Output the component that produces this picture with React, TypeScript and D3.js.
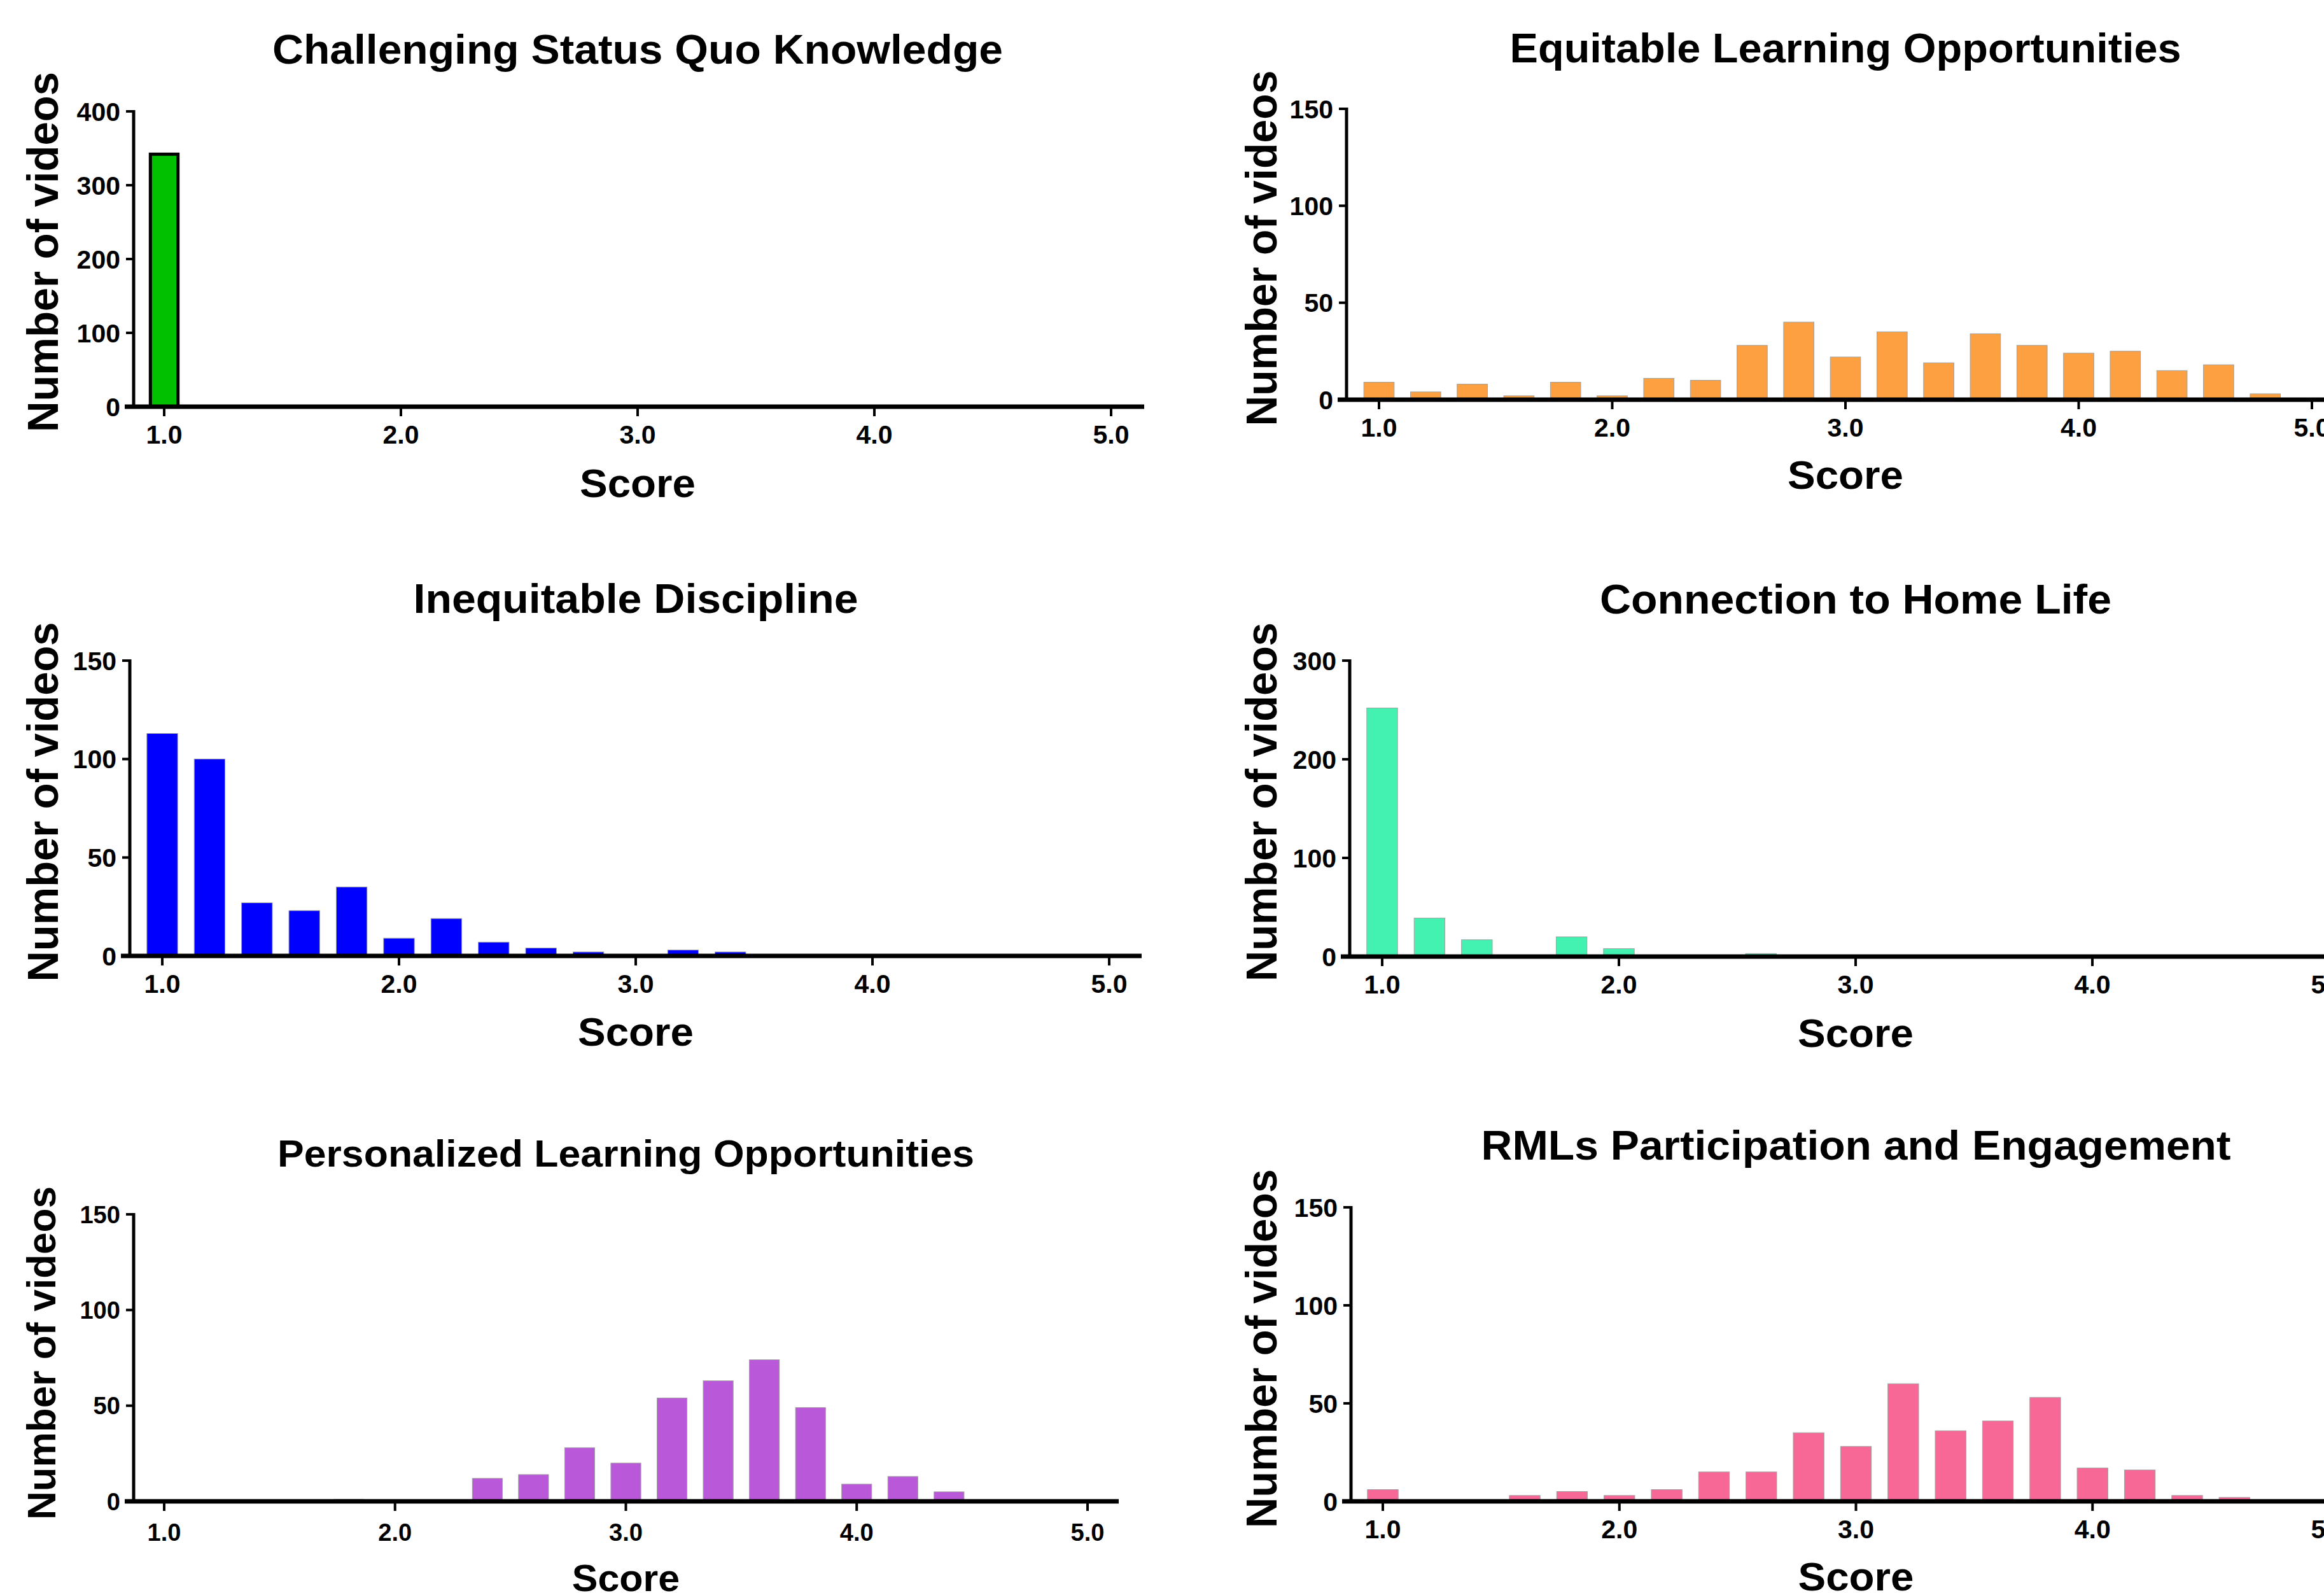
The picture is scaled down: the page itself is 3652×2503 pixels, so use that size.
import * as d3 from "d3";
import { useEffect, useRef } from "react";

const WIDTH = 3652;
const HEIGHT = 2503;
const FONT = "'Liberation Sans', Arial, Helvetica, sans-serif";

// bin centres shared by all six histograms
const scores = [
  1.0, 1.2, 1.4, 1.6, 1.8, 2.0, 2.2, 2.4, 2.6, 2.8, 3.0, 3.2, 3.4, 3.6, 3.8,
  4.0, 4.2, 4.4, 4.6, 4.8, 5.0,
];
const xTickValues = [1, 2, 3, 4, 5];

// counts per bin
const challengingCounts = [342, 0, 0, 0, 0, 0, 0, 0, 0, 0, 0, 0, 0, 0, 0, 0, 0, 0, 0, 0, 0];
const equitableCounts = [9, 4, 8, 2, 9, 2, 11, 10, 28, 40, 22, 35, 19, 34, 28, 24, 25, 15, 18, 3, 0];
const disciplineCounts = [113, 100, 27, 23, 35, 9, 19, 7, 4, 2, 0, 3, 2, 0, 0, 0, 0, 0, 0, 0, 0];
const homeLifeCounts = [252, 39, 17, 0, 20, 8, 0, 0, 3, 0, 0, 0, 0, 0, 0, 0, 0, 0, 0, 0, 0];
const personalizedCounts = [0, 0, 0, 0, 1, 0, 0, 12, 14, 28, 20, 54, 63, 74, 49, 9, 13, 5, 0, 0, 0];
const participationCounts = [6, 0, 0, 3, 5, 3, 6, 15, 15, 35, 28, 60, 36, 41, 53, 17, 16, 3, 2, 0, 0];

// y tick labels
const ticks400 = [0, 100, 200, 300, 400];
const ticks300 = [0, 100, 200, 300];
const ticks150 = [0, 50, 100, 150];

const panels = [
  {
    title: "Challenging Status Quo Knowledge", counts: challengingCounts, yTicks: ticks400,
    color: "#00C000", outline: true,
    ax: 210, yTop: 175, y0: 639, x1: 258, x5: 1746, xEnd: 1798,
    titleY: 100, titleW: 1148, scoreY: 781, labelX: 91, labelY: 396, labelLen: 566, k: 1,
  },
  {
    title: "Equitable Learning Opportunities", counts: equitableCounts, yTicks: ticks150,
    color: "#FCA042", outline: false,
    ax: 2116, yTop: 171, y0: 628, x1: 2167, x5: 3633, xEnd: 3700,
    titleY: 98, titleW: 1055, scoreY: 768, labelX: 2006, labelY: 390, labelLen: 559, k: 1,
  },
  {
    title: "Inequitable Discipline", counts: disciplineCounts, yTicks: ticks150,
    color: "#0000FF", outline: false,
    ax: 204, yTop: 1038, y0: 1502, x1: 255, x5: 1743, xEnd: 1794,
    titleY: 963, titleW: 699, scoreY: 1643, labelX: 91, labelY: 1260, labelLen: 565, k: 1,
  },
  {
    title: "Connection to Home Life", counts: homeLifeCounts, yTicks: ticks300,
    color: "#43F2B0", outline: false,
    ax: 2121, yTop: 1038, y0: 1503, x1: 2172, x5: 3660, xEnd: 3700,
    titleY: 964, titleW: 804, scoreY: 1645, labelX: 2006, labelY: 1260, labelLen: 564, k: 1,
  },
  {
    title: "Personalized Learning Opportunities", counts: personalizedCounts, yTicks: ticks150,
    color: "#B958D8", outline: false,
    ax: 210, yTop: 1908, y0: 2359, x1: 258, x5: 1709, xEnd: 1758,
    titleY: 1833, titleW: 1095, scoreY: 2500, labelX: 87, labelY: 2126, labelLen: 524, k: 0.93,
  },
  {
    title: "RMLs Participation and Engagement", counts: participationCounts, yTicks: ticks150,
    color: "#F76896", outline: false,
    ax: 2123, yTop: 1897, y0: 2359, x1: 2173, x5: 3660, xEnd: 3700,
    titleY: 1822, titleW: 1178, scoreY: 2499, labelX: 2006, labelY: 2119, labelLen: 564, k: 1,
  },
];

const drawPanel = (svg, p) => {
  const g = svg.append("g");
  const x = d3.scaleLinear().domain([1, 5]).range([p.x1, p.x5]);
  const y = d3.scaleLinear().domain([0, d3.max(p.yTicks)]).range([p.y0, p.yTop]);
  const bw = (x(scores[1]) - x(scores[0])) * 0.65;
  const rows = scores.map((s, i) => ({ s, n: p.counts[i] })).filter((d) => d.n > 0);

  // bars
  const sw = p.outline ? 5 : 1;
  const w = p.outline ? bw - 5 : bw;
  g.selectAll("rect")
    .data(rows)
    .join("rect")
    .attr("x", (d) => x(d.s) - w / 2)
    .attr("y", (d) => y(d.n))
    .attr("width", w)
    .attr("height", (d) => p.y0 - y(d.n))
    .attr("fill", p.color)
    .attr("stroke", p.outline ? "#000" : "#a0a0a0")
    .attr("stroke-width", sw);

  const tickFs = 41 * p.k;

  // y axis
  g.append("line")
    .attr("x1", p.ax).attr("x2", p.ax)
    .attr("y1", y(d3.max(p.yTicks)) - 2).attr("y2", p.y0)
    .attr("stroke", "#000").attr("stroke-width", 5);
  p.yTicks.forEach((t) => {
    g.append("line")
      .attr("x1", p.ax - 12).attr("x2", p.ax)
      .attr("y1", y(t)).attr("y2", y(t))
      .attr("stroke", "#000").attr("stroke-width", 4);
    g.append("text")
      .attr("x", p.ax - 21)
      .attr("y", y(t) + 0.36 * tickFs)
      .attr("text-anchor", "end")
      .attr("font-family", FONT)
      .attr("font-weight", "bold")
      .attr("font-size", tickFs)
      .text(t);
  });

  // x axis
  g.append("line")
    .attr("x1", p.ax - 14).attr("x2", p.xEnd)
    .attr("y1", p.y0).attr("y2", p.y0)
    .attr("stroke", "#000").attr("stroke-width", 7);
  xTickValues.forEach((t) => {
    g.append("line")
      .attr("x1", x(t)).attr("x2", x(t))
      .attr("y1", p.y0).attr("y2", p.y0 + 15)
      .attr("stroke", "#000").attr("stroke-width", 4);
    g.append("text")
      .attr("x", x(t))
      .attr("y", p.y0 + 58 * p.k + (p.k < 1 ? 8 : 0))
      .attr("text-anchor", "middle")
      .attr("font-family", FONT)
      .attr("font-weight", "bold")
      .attr("font-size", tickFs)
      .text(d3.format(".1f")(t));
  });

  // title
  g.append("text")
    .attr("x", x(3))
    .attr("y", p.titleY)
    .attr("text-anchor", "middle")
    .attr("font-family", FONT)
    .attr("font-weight", "bold")
    .attr("font-size", 64 * p.k)
    .attr("textLength", p.titleW)
    .attr("lengthAdjust", "spacingAndGlyphs")
    .text(p.title);

  // x title
  g.append("text")
    .attr("x", x(3))
    .attr("y", p.scoreY)
    .attr("text-anchor", "middle")
    .attr("font-family", FONT)
    .attr("font-weight", "bold")
    .attr("font-size", 63 * p.k)
    .attr("textLength", 182 * p.k)
    .attr("lengthAdjust", "spacingAndGlyphs")
    .text("Score");

  // y title
  g.append("text")
    .attr("transform", `translate(${p.labelX}, ${p.labelY}) rotate(-90)`)
    .attr("text-anchor", "middle")
    .attr("font-family", FONT)
    .attr("font-weight", "bold")
    .attr("font-size", 68 * p.k)
    .attr("textLength", p.labelLen)
    .attr("lengthAdjust", "spacingAndGlyphs")
    .text("Number of videos");
};

const App = () => {
  const svgRef = useRef(null);

  useEffect(() => {
    const svg = d3.select(svgRef.current);
    svg.selectAll("*").remove();
    svg.append("rect").attr("width", WIDTH).attr("height", HEIGHT).attr("fill", "#fff");
    panels.forEach((p) => drawPanel(svg, p));
  }, []);

  return (
    <div style={{ position: "absolute", left: 0, top: 0 }}>
      <svg ref={svgRef} width={WIDTH} height={HEIGHT} style={{ display: "block" }} />
    </div>
  );
};

export default App;
